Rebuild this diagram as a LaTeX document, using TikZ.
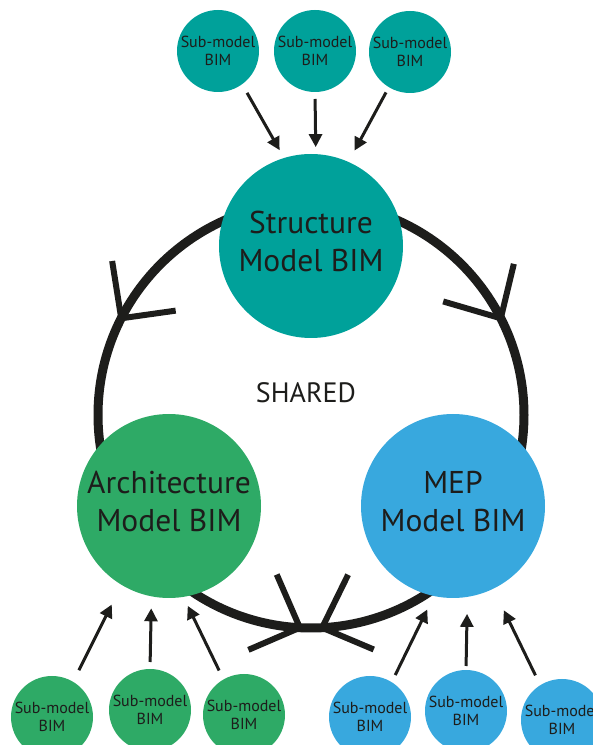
\documentclass[tikz,border=0pt]{standalone}
\usepackage{fontspec}
\setmainfont{PT Sans}
\usetikzlibrary{arrows.meta,positioning}
\definecolor{structteal}{RGB}{0,161,154}
\definecolor{archgreen}{RGB}{46,170,102}
\definecolor{mepblue}{RGB}{56,168,222}
\definecolor{ink}{RGB}{29,29,27}

\begin{document}
\begin{tikzpicture}[x=1pt, y=1pt,
        model/.style={circle, minimum size=184pt, inner sep=0pt, outer sep=0pt, align=center, text=ink, text depth=9pt, font=\fontsize{31.5}{38}\selectfont},
        submodel/.style={circle, minimum size=82pt, inner sep=0pt, outer sep=0pt, align=center, text=ink, font=\fontsize{16}{18.5}\selectfont},
        feed/.style={-{Triangle[length=13pt,width=13pt]}, line width=3pt, draw=ink},
        barb/.style={line width=6pt, draw=ink}
    ]
        \useasboundingbox (0,0) rectangle (593,745);

        % Shared loop (drawn first, the models sit on top of it)
        \node[circle, draw=ink, line width=9pt, minimum size=426pt, outer sep=0pt] (ring) at (311,330) {};
        \node[text=ink, font=\fontsize{28}{32}\selectfont] (shared) at (306,352) {SHARED};

        % Open arrow heads along the loop
        \draw[barb] ([shift={(99:58)}]ring.153.6) -- (ring.153.6) -- ([shift={(8:55)}]ring.153.6);
        \draw[barb] ([shift={(76.5:56)}]ring.27.2) -- (ring.27.2) -- ([shift={(163.7:60)}]ring.27.2);
        \draw[barb] ([shift={(113.5:58)}]ring.-93.5) -- (ring.-93.5) -- ([shift={(203.3:56)}]ring.-93.5);
        \draw[barb] ([shift={(63.9:59)}]ring.-87.3) -- (ring.-87.3) -- ([shift={(-22.9:56)}]ring.-87.3);

        % Discipline models
        \node[model, fill=structteal] (structure) at (311,499) {Structure\\Model BIM};
        \node[model, fill=archgreen] (arch) at (169,239) {Architecture\\Model BIM};
        \node[model, fill=mepblue] (mep) at (453,239) {MEP\\Model BIM};

        % Sub-models: structure (top)
        \node[submodel, fill=structteal] (ssub1) at (218,694) {Sub-model\\BIM};
        \node[submodel, fill=structteal] (ssub2) at (315,694) {Sub-model\\BIM};
        \node[submodel, fill=structteal] (ssub3) at (410,693) {Sub-model\\BIM};

        % Sub-models: architecture and MEP (bottom)
        \node[submodel, fill=archgreen] (asub1) at (52,28) {Sub-model\\BIM};
        \node[submodel, fill=archgreen] (asub2) at (150,35) {Sub-model\\BIM};
        \node[submodel, fill=archgreen] (asub3) at (244,30) {Sub-model\\BIM};
        \node[submodel, fill=mepblue] (msub1) at (370,28) {Sub-model\\BIM};
        \node[submodel, fill=mepblue] (msub2) at (466,34) {Sub-model\\BIM};
        \node[submodel, fill=mepblue] (msub3) at (562,25) {Sub-model\\BIM};

        % Arrows - sub-models into structure
        \draw[feed, shorten <=10pt, shorten >=9pt] (ssub1.-54) -- (structure.107.5);
        \draw[feed, shorten <=7pt, shorten >=7pt] (ssub2.-90) -- (structure.87.5);
        \draw[feed, shorten <=6pt, shorten >=13pt] (ssub3.-121) -- (structure.66.6);

        % Arrows - sub-models into architecture
        \draw[feed, shorten <=13pt, shorten >=22pt] (asub1.59) -- (arch.239);
        \draw[feed, shorten <=7pt, shorten >=12pt] (asub2.90) -- (arch.259);
        \draw[feed, shorten <=10pt, shorten >=10pt] (asub3.120) -- (arch.279);

        % Arrows - sub-models into MEP
        \draw[feed, shorten <=8pt, shorten >=15pt] (msub1.58) -- (mep.258.5);
        \draw[feed, shorten <=4pt, shorten >=17pt] (msub2.90) -- (mep.279);
        \draw[feed, shorten <=11pt, shorten >=24pt] (msub3.122.5) -- (mep.296.5);
    \end{tikzpicture}
\end{document}
